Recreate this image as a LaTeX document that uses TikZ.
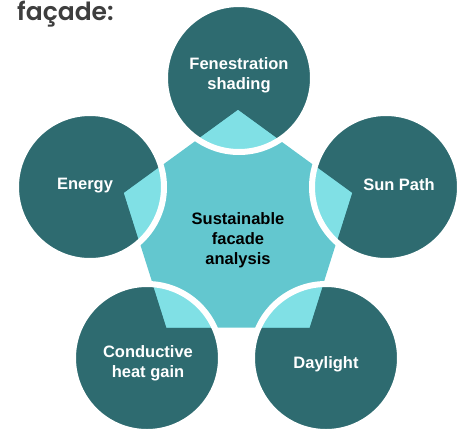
\documentclass[tikz,border=0pt]{standalone}
\usepackage{fontspec}
\setmainfont{Liberation Sans}
\newfontfamily\popfont{Poppins SemiBold}
\definecolor{darkteal}{HTML}{2E6B70}
\definecolor{lightcyan}{HTML}{80E0E5}
\definecolor{midteal}{HTML}{63C7CF}
\definecolor{titlegray}{HTML}{3E3E3E}
\begin{document}
\begin{tikzpicture}[x=1pt,y=-1pt,
  circfill/.style={fill=darkteal},
  ringstyle/.style={draw=white,line width=6pt},
  lbl/.style={text=white,font=\fontsize{16.5}{20}\selectfont\bfseries,align=center,inner sep=0pt},
  centerlbl/.style={text=black,font=\fontsize{16.5}{20}\selectfont\bfseries,align=center,inner sep=0pt}]
\useasboundingbox (0,0) rectangle (466,429);
% circle centres
\coordinate (cT) at (239,78);
\coordinate (cL) at (90,187);
\coordinate (cR) at (386,187);
\coordinate (cBL) at (147,358);
\coordinate (cBR) at (326,358);
% pentagon vertices
\coordinate (pT) at (238,110);
\coordinate (pR) at (352,193);
\coordinate (pBR) at (309.5,327.5);
\coordinate (pBL) at (166.5,327.5);
\coordinate (pL) at (124,193);
% dark circles
\foreach \c in {cT,cL,cR,cBL,cBR} {\fill[circfill] (\c) circle (74);}
% pentagon
\fill[midteal] (pT) -- (pR) -- (pBR) -- (pBL) -- (pL) -- cycle;
\begin{scope}
\clip (pT) -- (pR) -- (pBR) -- (pBL) -- (pL) -- cycle;
\foreach \c in {cT,cL,cR,cBL,cBR} {\fill[lightcyan] (\c) circle (74);}
\end{scope}
% white rings
\foreach \c in {cT,cL,cR,cBL,cBR} {\draw[ringstyle] (\c) circle (74);}
% labels
\node[lbl] (tFen) at (239,75) {Fenestration\\shading};
\node[lbl] (tEn) at (85,186) {Energy};
\node[lbl] (tSun) at (399,184.5) {Sun Path};
\node[lbl] (tCon) at (148,363) {Conductive\\heat gain};
\node[lbl] (tDay) at (326,364) {Daylight};
\node[centerlbl] (tCen) at (238,240) {Sustainable\\facade\\analysis};
\node[anchor=base west,inner sep=0pt,text=titlegray,font=\popfont\fontsize{25}{29}\selectfont] (title) at (17,20) {façade:};
\end{tikzpicture}
\end{document}
